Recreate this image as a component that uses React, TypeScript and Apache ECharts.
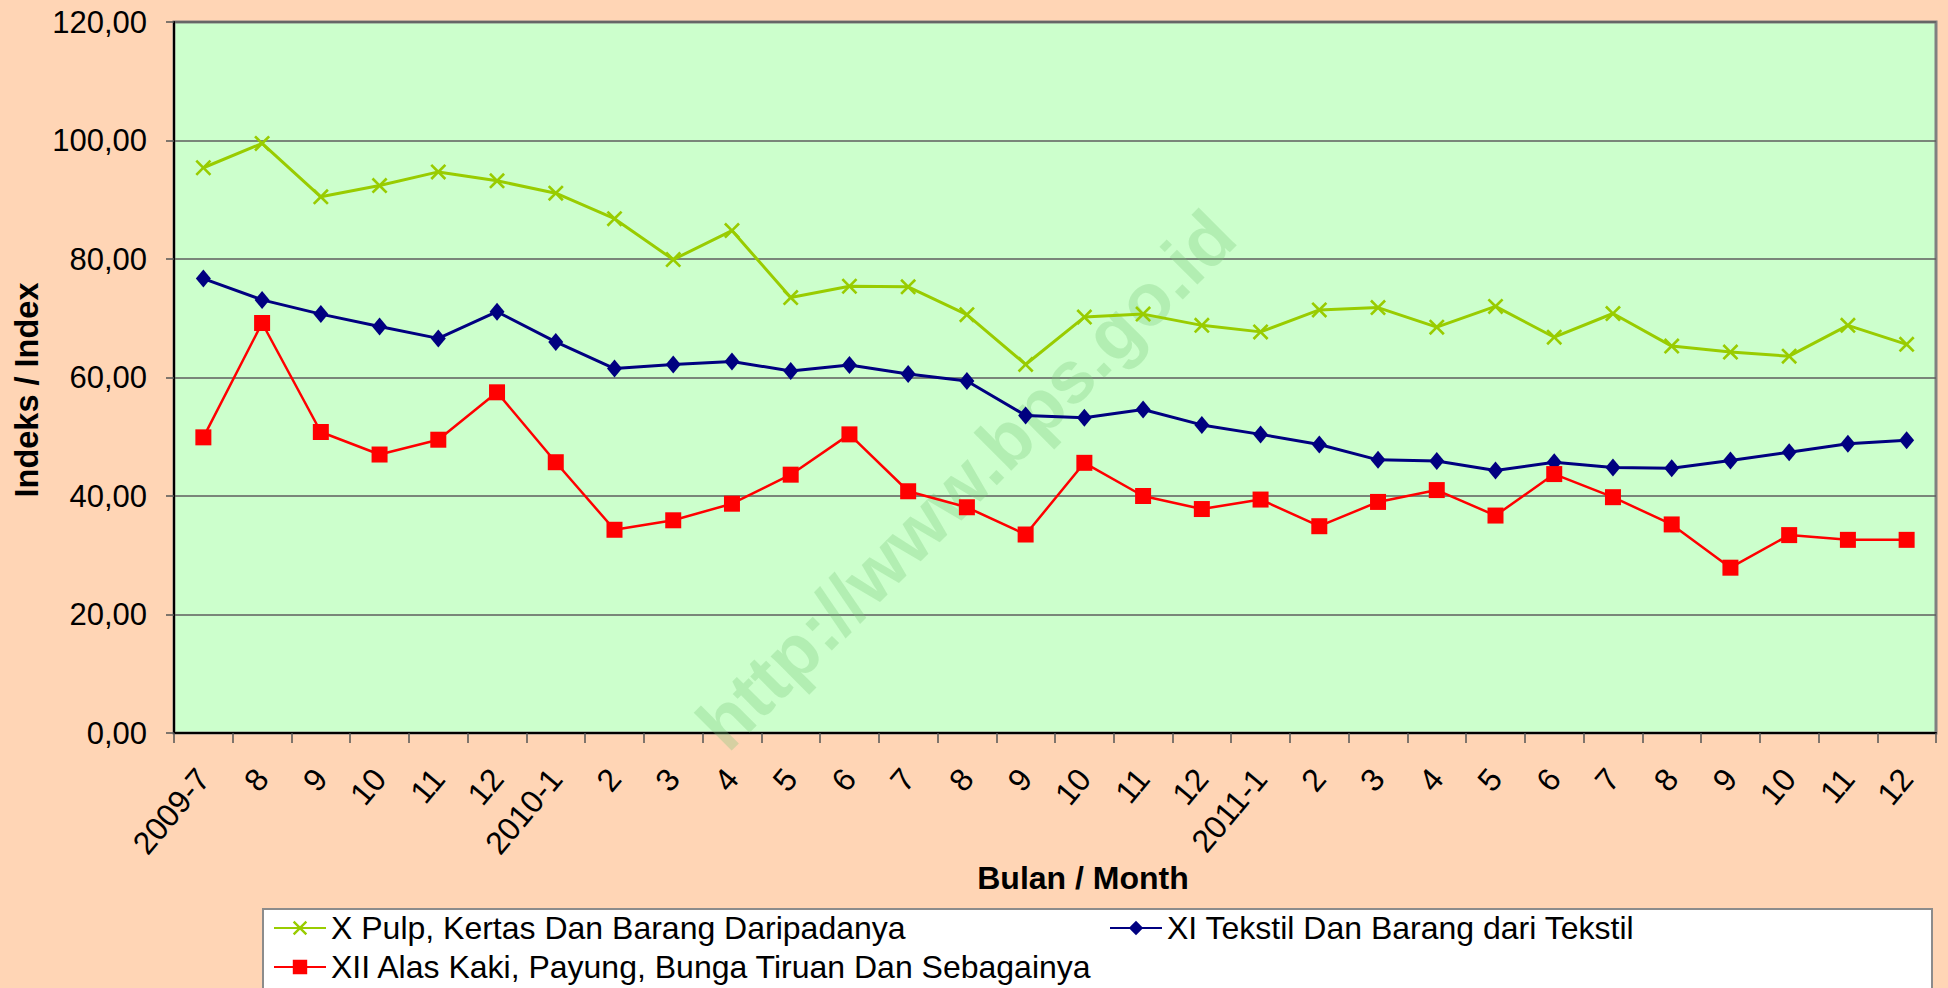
import React, { useEffect, useRef } from "react";
import * as echarts from "echarts";

const categories = ["2009-7", "8", "9", "10", "11", "12", "2010-1", "2", "3", "4", "5", "6", "7", "8", "9", "10", "11", "12", "2011-1", "2", "3", "4", "5", "6", "7", "8", "9", "10", "11", "12"];

const pulpValues = [95.4, 99.5, 90.5, 92.4, 94.7, 93.2, 91.1, 86.8, 79.9, 84.8, 73.5, 75.4, 75.3, 70.6, 62.2, 70.2, 70.7, 68.8, 67.7, 71.4, 71.8, 68.5, 72.0, 66.8, 70.8, 65.3, 64.3, 63.6, 68.8, 65.6];
const tekstilValues = [76.7, 73.1, 70.7, 68.6, 66.6, 71.1, 66.0, 61.5, 62.2, 62.7, 61.1, 62.1, 60.6, 59.4, 53.6, 53.2, 54.6, 52.0, 50.4, 48.7, 46.1, 45.9, 44.3, 45.7, 44.8, 44.7, 46.0, 47.4, 48.8, 49.4];
const alasValues = [49.9, 69.2, 50.8, 47.0, 49.5, 57.5, 45.7, 34.3, 35.9, 38.7, 43.6, 50.4, 40.8, 38.1, 33.5, 45.6, 40.0, 37.8, 39.4, 34.9, 39.0, 41.0, 36.7, 43.7, 39.8, 35.2, 27.9, 33.4, 32.6, 32.6];

const seriesNames = [
  "X Pulp, Kertas Dan Barang Daripadanya",
  "XI Tekstil Dan Barang dari Tekstil",
  "XII Alas Kaki, Payung, Bunga Tiruan Dan Sebagainya",
];

const yTitle = "Indeks / Index";
const xTitle = "Bulan / Month";
const watermark = "http://www.bps.go.id";

const FONT = "'Liberation Sans', Arial, sans-serif";
const X_SYMBOL = "path://M0,1.4 L1.4,0 L6,4.6 L10.6,0 L12,1.4 L7.4,6 L12,10.6 L10.6,12 L6,7.4 L1.4,12 L0,10.6 L4.6,6 Z";

export default function App() {
  const ref = useRef<HTMLDivElement>(null);
  useEffect(() => {
    if (!ref.current) return;
    const chart = echarts.init(ref.current, undefined, { renderer: "svg" });
    const legendCommon = {
      padding: 0,
      itemWidth: 52,
      itemHeight: 18,
      textStyle: { fontFamily: FONT, fontSize: 32, color: "#000" },
      selectedMode: false,
    };
    chart.setOption({
      animation: false,
      backgroundColor: "#FFD5B5",
      textStyle: { fontFamily: FONT },
      grid: {
        left: 174,
        top: 22,
        right: 12,
        bottom: 255,
        show: true,
        backgroundColor: "#CCFFCC",
        borderColor: "#808080",
        borderWidth: 3,
      },
      graphic: [
        {
          type: "text",
          x: 966,
          y: 480,
          rotation: Math.PI / 4,
          z: 1,
          style: {
            text: watermark,
            fontFamily: FONT,
            fontWeight: "bold",
            fontSize: 74,
            fill: "rgba(120,200,120,0.3)",
            textAlign: "center",
            textVerticalAlign: "middle",
          },
        },
        {
          type: "text",
          x: 27,
          y: 390,
          rotation: Math.PI / 2,
          style: {
            text: yTitle,
            fontFamily: FONT,
            fontWeight: "bold",
            fontSize: 32.5,
            fill: "#000",
            textAlign: "center",
            textVerticalAlign: "middle",
          },
        },
        {
          type: "text",
          x: 1083,
          y: 878,
          style: {
            text: xTitle,
            fontFamily: FONT,
            fontWeight: "bold",
            fontSize: 32,
            fill: "#000",
            textAlign: "center",
            textVerticalAlign: "middle",
          },
        },
        {
          type: "rect",
          z: 0,
          shape: { x: 263, y: 909, width: 1669, height: 100 },
          style: { fill: "#FFFFFF", stroke: "#8C8C8C", lineWidth: 2 },
        },
      ],
      legend: [
        { ...legendCommon, data: [seriesNames[0]], left: 273, top: 912 },
        { ...legendCommon, data: [seriesNames[1]], left: 1109, top: 912 },
        { ...legendCommon, data: [seriesNames[2]], left: 273, top: 951 },
      ],
      xAxis: {
        type: "category",
        data: categories,
        boundaryGap: true,
        axisLine: { show: true, lineStyle: { color: "#000", width: 2 } },
        axisTick: { show: true, alignWithLabel: false, length: 10, lineStyle: { color: "#555", width: 1.5 } },
        axisLabel: {
          interval: 0,
          rotate: 50,
          margin: 40,
          fontFamily: FONT,
          fontSize: 32,
          color: "#000",
        },
        splitLine: { show: false },
      },
      yAxis: {
        type: "value",
        min: 0,
        max: 120,
        interval: 20,
        axisLine: { show: true, lineStyle: { color: "#000", width: 2 } },
        axisTick: { show: true, length: 8, lineStyle: { color: "#555", width: 1.5 } },
        axisLabel: {
          margin: 27,
          fontFamily: FONT,
          fontSize: 31,
          color: "#000",
          formatter: (v: number) => v.toFixed(2).replace(".", ","),
        },
        splitLine: { show: true, lineStyle: { color: "#5E5E5E", width: 1.5 } },
      },
      series: [
        {
          name: seriesNames[0],
          type: "line",
          data: pulpValues,
          symbol: X_SYMBOL,
          symbolSize: 16,
          showAllSymbol: true,
          itemStyle: { color: "#99CC00" },
          lineStyle: { color: "#99CC00", width: 3 },
          z: 3,
        },
        {
          name: seriesNames[1],
          type: "line",
          data: tekstilValues,
          symbol: "diamond",
          symbolSize: [15, 18],
          showAllSymbol: true,
          itemStyle: { color: "#000080" },
          lineStyle: { color: "#000080", width: 3 },
          z: 4,
        },
        {
          name: seriesNames[2],
          type: "line",
          data: alasValues,
          symbol: "rect",
          symbolSize: 16,
          showAllSymbol: true,
          itemStyle: { color: "#FF0000" },
          lineStyle: { color: "#FF0000", width: 2.5 },
          z: 5,
        },
      ],
    });
    return () => chart.dispose();
  }, []);
  return (
    <div
      ref={ref}
      style={{ position: "fixed", left: 0, top: 0, width: 1948, height: 988 }}
    />
  );
}
